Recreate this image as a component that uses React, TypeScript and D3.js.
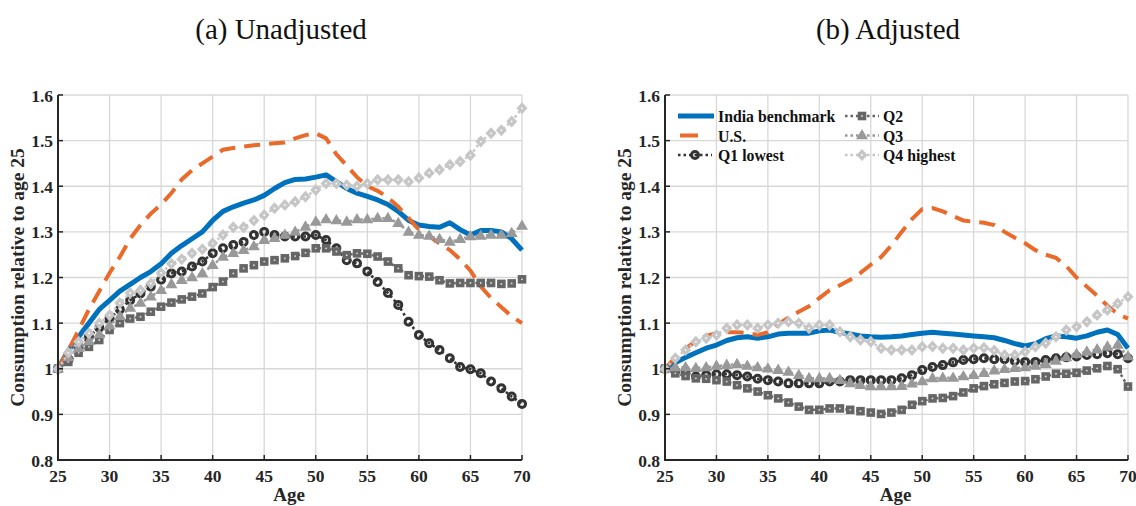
import React, { useEffect, useRef } from 'react'
import * as d3 from 'd3'

const ages = [25, 26, 27, 28, 29, 30, 31, 32, 33, 34, 35, 36, 37, 38, 39, 40, 41, 42, 43, 44, 45, 46, 47,
  48, 49, 50, 51, 52, 53, 54, 55, 56, 57, 58, 59, 60, 61, 62, 63, 64, 65, 66, 67, 68, 69, 70]
const xTicks = [25, 30, 35, 40, 45, 50, 55, 60, 65, 70]
const yTicks = [0.8, 0.9, 1, 1.1, 1.2, 1.3, 1.4, 1.5, 1.6]

// (a) Unadjusted
const unadjIndia = [1.0, 1.04, 1.07, 1.1, 1.13, 1.15, 1.17, 1.185, 1.2, 1.213, 1.23, 1.253, 1.27, 1.285, 1.3, 1.325,
  1.345, 1.355, 1.363, 1.37, 1.38, 1.395, 1.408, 1.415, 1.416, 1.42, 1.425, 1.41, 1.395, 1.385, 1.378, 1.37, 1.36,
  1.345, 1.325, 1.315, 1.312, 1.31, 1.32, 1.305, 1.293, 1.303, 1.303, 1.3, 1.285, 1.26]
const unadjUS = [1.0, 1.04, 1.085, 1.13, 1.17, 1.21, 1.245, 1.285, 1.315, 1.34, 1.36, 1.385, 1.415, 1.435, 1.45,
  1.465, 1.48, 1.484, 1.487, 1.49, 1.492, 1.494, 1.496, 1.505, 1.512, 1.516, 1.505, 1.47, 1.445, 1.42, 1.4, 1.39,
  1.375, 1.355, 1.33, 1.305, 1.29, 1.275, 1.26, 1.24, 1.215, 1.18, 1.155, 1.135, 1.115, 1.1]
const unadjQ1 = [1.0, 1.02, 1.045, 1.07, 1.09, 1.11, 1.13, 1.15, 1.165, 1.18, 1.195, 1.209, 1.213, 1.224, 1.235,
  1.253, 1.264, 1.271, 1.278, 1.293, 1.3, 1.293, 1.29, 1.29, 1.29, 1.293, 1.282, 1.264, 1.238, 1.231, 1.213, 1.19,
  1.166, 1.14, 1.103, 1.074, 1.056, 1.041, 1.023, 1.004, 0.999, 0.99, 0.972, 0.957, 0.939, 0.923]
const unadjQ2 = [1.0, 1.015, 1.035, 1.048, 1.063, 1.085, 1.1, 1.11, 1.114, 1.125, 1.136, 1.145, 1.152, 1.158, 1.165,
  1.179, 1.191, 1.209, 1.22, 1.227, 1.235, 1.238, 1.242, 1.247, 1.254, 1.264, 1.264, 1.257, 1.249, 1.253, 1.252,
  1.246, 1.235, 1.22, 1.205, 1.203, 1.202, 1.194, 1.187, 1.188, 1.188, 1.188, 1.188, 1.186, 1.187, 1.196]
const unadjQ3 = [1.0, 1.025, 1.045, 1.06, 1.075, 1.095, 1.115, 1.133, 1.144, 1.158, 1.172, 1.185, 1.194, 1.2, 1.209,
  1.227, 1.245, 1.253, 1.26, 1.268, 1.282, 1.286, 1.293, 1.3, 1.311, 1.322, 1.327, 1.325, 1.322, 1.327, 1.327, 1.33,
  1.33, 1.319, 1.3, 1.293, 1.291, 1.284, 1.278, 1.284, 1.29, 1.291, 1.293, 1.293, 1.297, 1.313]
const unadjQ4 = [1.0, 1.035, 1.059, 1.078, 1.1, 1.117, 1.144, 1.166, 1.172, 1.187, 1.21, 1.23, 1.24, 1.253, 1.262,
  1.275, 1.293, 1.31, 1.31, 1.325, 1.337, 1.352, 1.359, 1.366, 1.377, 1.392, 1.406, 1.406, 1.403, 1.4, 1.406, 1.414,
  1.414, 1.414, 1.41, 1.418, 1.429, 1.436, 1.447, 1.454, 1.468, 1.498, 1.516, 1.523, 1.542, 1.571]

// (b) Adjusted
const adjIndia = [1.0, 1.013, 1.025, 1.035, 1.045, 1.052, 1.062, 1.068, 1.07, 1.067, 1.07, 1.076, 1.078, 1.078,
  1.078, 1.083, 1.085, 1.08, 1.076, 1.072, 1.07, 1.069, 1.07, 1.072, 1.075, 1.078, 1.08, 1.078, 1.076, 1.074, 1.072,
  1.07, 1.068, 1.062, 1.055, 1.05, 1.055, 1.066, 1.072, 1.07, 1.067, 1.072, 1.08, 1.085, 1.075, 1.045]
const adjUS = [1.0, 1.025, 1.045, 1.06, 1.072, 1.078, 1.08, 1.08, 1.078, 1.074, 1.08, 1.098, 1.112, 1.125, 1.137,
  1.155, 1.172, 1.183, 1.195, 1.21, 1.228, 1.245, 1.27, 1.3, 1.328, 1.35, 1.352, 1.345, 1.335, 1.325, 1.322, 1.32,
  1.315, 1.3, 1.287, 1.275, 1.26, 1.25, 1.243, 1.225, 1.2, 1.18, 1.16, 1.138, 1.12, 1.11]
const adjQ1 = [1.0, 0.995, 0.99, 0.983, 0.986, 0.988, 0.988, 0.986, 0.983, 0.978, 0.975, 0.972, 0.968, 0.968, 0.968,
  0.968, 0.972, 0.972, 0.975, 0.975, 0.975, 0.975, 0.975, 0.979, 0.986, 0.997, 1.004, 1.008, 1.014, 1.019, 1.021,
  1.023, 1.021, 1.021, 1.017, 1.015, 1.015, 1.019, 1.023, 1.025, 1.027, 1.03, 1.032, 1.034, 1.032, 1.023]
const adjQ2 = [1.0, 0.99, 0.984, 0.979, 0.978, 0.975, 0.972, 0.964, 0.957, 0.95, 0.942, 0.935, 0.926, 0.917, 0.91,
  0.91, 0.913, 0.913, 0.91, 0.907, 0.904, 0.901, 0.904, 0.91, 0.921, 0.929, 0.935, 0.936, 0.94, 0.948, 0.957, 0.962,
  0.966, 0.969, 0.972, 0.973, 0.977, 0.983, 0.989, 0.989, 0.991, 0.996, 1.001, 1.006, 0.999, 0.961]
const adjQ3 = [1.0, 1.003, 1.003, 1.001, 1.003, 1.006, 1.008, 1.01, 1.006, 1.003, 1.0, 0.997, 0.993, 0.986, 0.979,
  0.979, 0.979, 0.975, 0.968, 0.964, 0.961, 0.961, 0.961, 0.962, 0.967, 0.972, 0.979, 0.98, 0.98, 0.983, 0.986, 0.99,
  0.996, 0.999, 1.001, 1.003, 1.006, 1.01, 1.017, 1.025, 1.032, 1.037, 1.042, 1.048, 1.052, 1.027]
const adjQ4 = [1.0, 1.023, 1.041, 1.059, 1.067, 1.074, 1.089, 1.096, 1.096, 1.089, 1.096, 1.1, 1.103, 1.1, 1.089,
  1.096, 1.096, 1.081, 1.07, 1.063, 1.059, 1.045, 1.041, 1.041, 1.041, 1.048, 1.049, 1.045, 1.045, 1.041, 1.045,
  1.046, 1.04, 1.03, 1.03, 1.037, 1.048, 1.056, 1.07, 1.085, 1.092, 1.103, 1.118, 1.129, 1.143, 1.158]

const seriesNames = ['India benchmark', 'U.S.', 'Q1 lowest', 'Q2', 'Q3', 'Q4 highest']

const FONT = '"Liberation Serif", "DejaVu Serif", serif'
const BLUE = '#0072BD'
const ORANGE = '#EA6A2C'
const Q_COLORS = ['#333333', '#666666', '#999999', '#C6C6C6']
const Q_MARKERS = ['circle', 'square', 'triangle', 'diamond']

const drawMarker = (g, type, cx, cy, color) => {
  if (type === 'circle') {
    g.append('circle').attr('cx', cx).attr('cy', cy).attr('r', 3.5)
      .attr('fill', 'none').attr('stroke', color).attr('stroke-width', 3)
  } else if (type === 'square') {
    g.append('rect').attr('x', cx - 3.3).attr('y', cy - 3.3).attr('width', 6.6).attr('height', 6.6)
      .attr('fill', color).attr('stroke', color).attr('stroke-width', 2)
    g.append('circle').attr('cx', cx).attr('cy', cy).attr('r', 0.9).attr('fill', '#ddd')
  } else if (type === 'triangle') {
    g.append('path').attr('d', `M${cx},${cy - 6.5}L${cx + 6},${cy + 3.8}L${cx - 6},${cy + 3.8}Z`)
      .attr('fill', color)
  } else {
    g.append('path').attr('d', `M${cx},${cy - 6}L${cx + 5.5},${cy}L${cx},${cy + 6}L${cx - 5.5},${cy}Z`)
      .attr('fill', color)
    g.append('circle').attr('cx', cx).attr('cy', cy).attr('r', 0.9).attr('fill', '#fff')
  }
}

const panels = [
  { title: '(a) Unadjusted', titleX: 281, left: 58, right: 522, legend: false,
    series: [unadjIndia, unadjUS, unadjQ1, unadjQ2, unadjQ3, unadjQ4] },
  { title: '(b) Adjusted', titleX: 888, left: 665, right: 1128, legend: true,
    series: [adjIndia, adjUS, adjQ1, adjQ2, adjQ3, adjQ4] },
]

const App = () => {
  const ref = useRef(null)

  useEffect(() => {
    const svg = d3.select(ref.current)
    svg.selectAll('*').remove()
    const top = 95
    const bottom = 460

    panels.forEach(p => {
      const x = d3.scaleLinear().domain([25, 70]).range([p.left, p.right])
      const y = d3.scaleLinear().domain([0.8, 1.6]).range([bottom, top])
      const g = svg.append('g')

      // title
      g.append('text').attr('x', p.titleX).attr('y', 39).attr('text-anchor', 'middle')
        .attr('font-family', FONT).attr('font-size', 29).attr('fill', '#111').text(p.title)

      // grid
      g.append('g').selectAll('line').data(xTicks).join('line')
        .attr('x1', d => x(d)).attr('x2', d => x(d)).attr('y1', top).attr('y2', bottom)
        .attr('stroke', '#d8d8d8').attr('stroke-width', 1.3)
      g.append('g').selectAll('line').data(yTicks).join('line')
        .attr('x1', p.left).attr('x2', p.right).attr('y1', d => y(d)).attr('y2', d => y(d))
        .attr('stroke', '#d8d8d8').attr('stroke-width', 1.3)

      // lines
      const line = d3.line().x((d, i) => x(ages[i])).y(d => y(d))
      g.append('path').attr('d', line(p.series[0])).attr('fill', 'none')
        .attr('stroke', BLUE).attr('stroke-width', 5).attr('stroke-linejoin', 'round')
      g.append('path').attr('d', line(p.series[1])).attr('fill', 'none')
        .attr('stroke', ORANGE).attr('stroke-width', 4).attr('stroke-dasharray', '16,9')

      p.series.slice(2).forEach((s, qi) => {
        const color = Q_COLORS[qi]
        g.append('path').attr('d', line(s)).attr('fill', 'none')
          .attr('stroke', color).attr('stroke-width', 2.6).attr('stroke-dasharray', '2.5,3')
        const mg = g.append('g')
        s.forEach((v, i) => drawMarker(mg, Q_MARKERS[qi], x(ages[i]), y(v), color))
      })

      // axes
      const ax = g.append('g').attr('font-family', FONT).attr('font-weight', 'bold')
      ax.append('line').attr('x1', p.left).attr('x2', p.left).attr('y1', top).attr('y2', bottom + 1)
        .attr('stroke', '#262626').attr('stroke-width', 2)
      ax.append('line').attr('x1', p.left).attr('x2', p.right).attr('y1', bottom).attr('y2', bottom)
        .attr('stroke', '#262626').attr('stroke-width', 2)
      ax.selectAll('.yt').data(yTicks).join('line').attr('class', 'yt')
        .attr('x1', p.left).attr('x2', p.left + 5).attr('y1', d => y(d)).attr('y2', d => y(d))
        .attr('stroke', '#262626').attr('stroke-width', 1.5)
      ax.selectAll('.xt').data(xTicks).join('line').attr('class', 'xt')
        .attr('x1', d => x(d)).attr('x2', d => x(d)).attr('y1', bottom).attr('y2', bottom - 5)
        .attr('stroke', '#262626').attr('stroke-width', 1.5)
      ax.selectAll('.yl').data(yTicks).join('text').attr('class', 'yl')
        .attr('x', p.left - 5).attr('y', d => y(d) + 6.5).attr('text-anchor', 'end')
        .attr('font-size', 17.5).attr('fill', '#262626')
        .text(d => d === 1 ? '1' : d.toFixed(1))
      ax.selectAll('.xl').data(xTicks).join('text').attr('class', 'xl')
        .attr('x', d => x(d)).attr('y', 482).attr('text-anchor', 'middle')
        .attr('font-size', 17.5).attr('fill', '#262626').text(d => d)
      ax.append('text').attr('x', (p.left + p.right) / 2 - 1).attr('y', 501).attr('text-anchor', 'middle')
        .attr('font-size', 19).attr('fill', '#262626').text('Age')
      ax.append('text')
        .attr('transform', `translate(${p.left - 34},${(top + bottom) / 2}) rotate(-90)`)
        .attr('text-anchor', 'middle').attr('font-size', 19.5).attr('fill', '#262626')
        .text('Consumption relative to age 25')

      // legend
      if (p.legend) {
        const lg = g.append('g').attr('font-family', FONT).attr('font-weight', 'bold')
          .attr('font-size', 15.8)
        seriesNames.forEach((name, i) => {
          const col = Math.floor(i / 3)
          const row = i % 3
          const x0 = col === 0 ? 678 : 845
          const yy = 116 + row * 19.5
          const item = lg.append('g')
          if (i === 0) {
            item.append('line').attr('x1', x0).attr('x2', x0 + 36).attr('y1', yy).attr('y2', yy)
              .attr('stroke', BLUE).attr('stroke-width', 5)
          } else if (i === 1) {
            item.append('line').attr('x1', x0 + 2).attr('x2', x0 + 20).attr('y1', yy).attr('y2', yy)
              .attr('stroke', ORANGE).attr('stroke-width', 4)
          } else {
            const qi = i - 2
            item.append('line').attr('x1', x0).attr('x2', x0 + 34).attr('y1', yy).attr('y2', yy)
              .attr('stroke', Q_COLORS[qi]).attr('stroke-width', 2.6).attr('stroke-dasharray', '2.5,3')
            drawMarker(item, Q_MARKERS[qi], x0 + 17, yy, Q_COLORS[qi])
          }
          item.append('text').attr('x', col === 0 ? 718 : 883).attr('y', yy + 6)
            .attr('fill', '#111').text(name)
        })
      }
    })
  }, [])

  return (
    <svg ref={ref} width={1136} height={506}
      style={{ position: 'absolute', left: 0, top: 0, background: '#fff' }} />
  )
}

export default App
